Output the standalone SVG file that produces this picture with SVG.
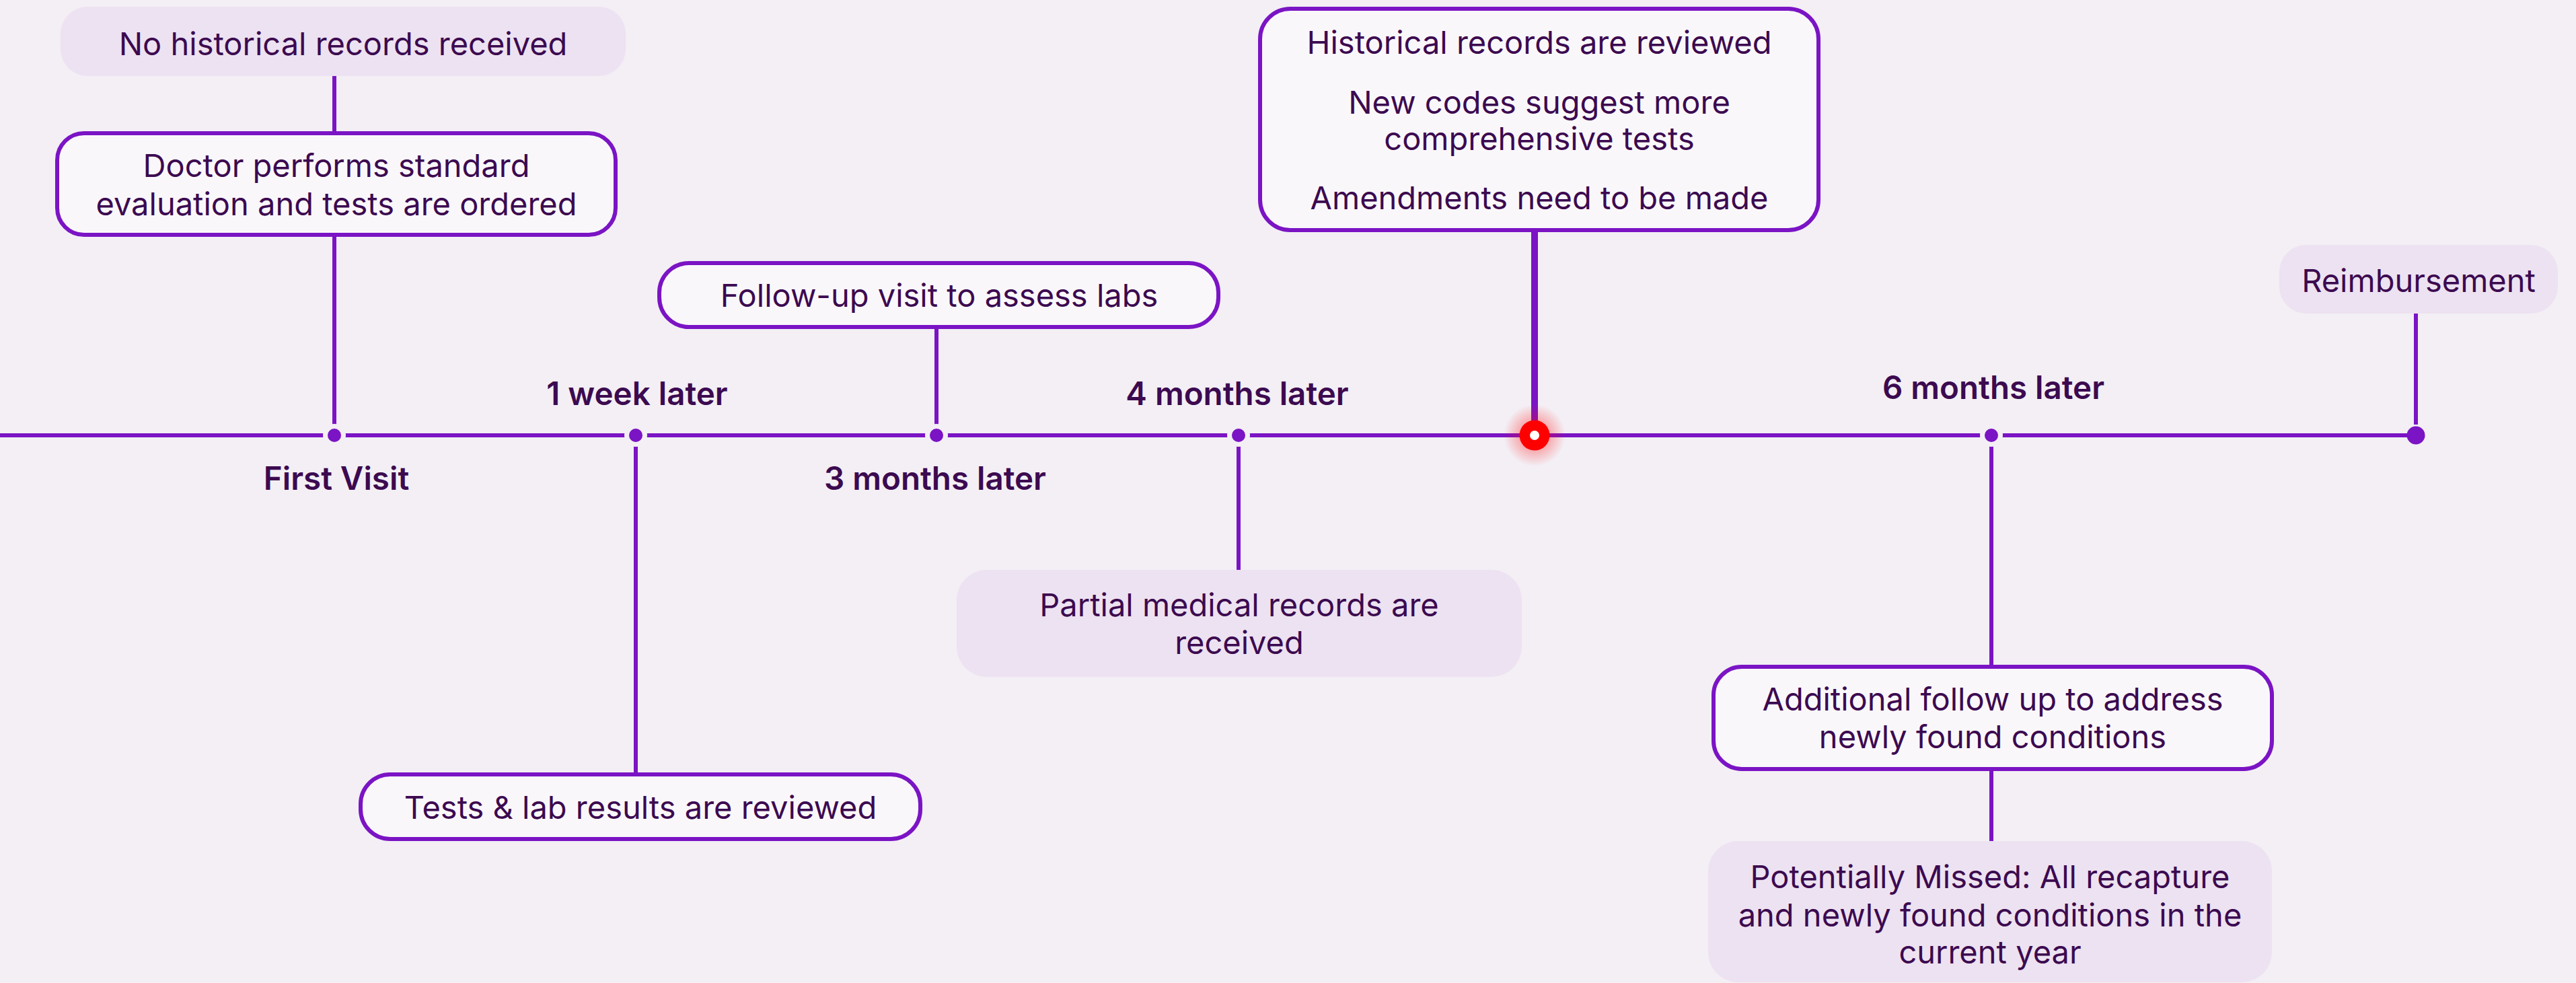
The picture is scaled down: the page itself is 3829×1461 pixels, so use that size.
<svg xmlns="http://www.w3.org/2000/svg" width="3829" height="1461" viewBox="0 0 3829 1461">
<defs>
<style>
.bg{fill:#F3EFF5}
.box{fill:#FAF7FB;stroke:#7B14C4;stroke-width:6}
.pill{fill:#EDE2F1}
.t{font-family:Inter,"Noto Sans","Liberation Sans",sans-serif;font-size:47px;fill:#3C0A50;text-anchor:middle}
.lbl{font-family:Inter,"Noto Sans","Liberation Sans",sans-serif;font-size:47.5px;font-weight:600;fill:#3C0A50;text-anchor:middle}
.ln{stroke:#7B14C4;stroke-width:6;fill:none}
.dot{fill:#7B14C4;stroke:#F3EFF5;stroke-width:7}
</style>
<radialGradient id="glow">
<stop offset="0.45" stop-color="#FF0000" stop-opacity="0.3"/>
<stop offset="1" stop-color="#FF0000" stop-opacity="0"/>
</radialGradient>
</defs>
<rect class="bg" x="0" y="0" width="3829" height="1461"/>

<g id="connectors">
<line class="ln" x1="0" y1="647" x2="3591" y2="647"/>
<line class="ln" x1="497" y1="113" x2="497" y2="196"/>
<line class="ln" x1="497" y1="352" x2="497" y2="631"/>
<line class="ln" x1="945" y1="663" x2="945" y2="1149"/>
<line class="ln" x1="1392" y1="488" x2="1392" y2="631"/>
<line class="ln" x1="1841" y1="663" x2="1841" y2="848"/>
<line class="ln" x1="2281" y1="343" x2="2281" y2="640" style="stroke-width:10"/>
<line class="ln" x1="2960" y1="663" x2="2960" y2="989"/>
<line class="ln" x1="2960" y1="1145" x2="2960" y2="1251"/>
<line class="ln" x1="3591" y1="466" x2="3591" y2="631"/>
</g>

<g id="markers">
<circle class="dot" cx="497" cy="647" r="13.5"/>
<circle class="dot" cx="945" cy="647" r="13.5"/>
<circle class="dot" cx="1392" cy="647" r="13.5"/>
<circle class="dot" cx="1841" cy="647" r="13.5"/>
<circle class="dot" cx="2960" cy="647" r="13.5"/>
<circle cx="3591" cy="647" r="13.5" fill="#7B14C4"/>
<g id="current">
<circle cx="2281" cy="647" r="46" fill="url(#glow)"/>
<circle cx="2281" cy="647" r="22.5" fill="#FF0000"/>
<circle cx="2281" cy="647" r="7" fill="#FFFFFF"/>
</g>
</g>

<g id="labels">
<text class="lbl" x="500" y="728">First Visit</text>
<text class="lbl" x="947" y="602">1 week later</text>
<text class="lbl" x="1390" y="728">3 months later</text>
<text class="lbl" x="1839" y="602">4 months later</text>
<text class="lbl" x="2963" y="593">6 months later</text>
</g>

<g id="n-no-records">
<rect class="pill" x="90" y="10" width="840" height="103" rx="40"/>
<text class="t" x="510" y="82">No historical records received</text>
</g>

<g id="n-doctor">
<rect class="box" x="85" y="198" width="830" height="151" rx="40"/>
<text class="t" x="500" y="263">Doctor performs standard</text>
<text class="t" x="500" y="320">evaluation and tests are ordered</text>
</g>

<g id="n-tests">
<rect class="box" x="536" y="1151" width="832" height="96" rx="44"/>
<text class="t" x="952" y="1217">Tests &amp; lab results are reviewed</text>
</g>

<g id="n-followup">
<rect class="box" x="980" y="391" width="831" height="95" rx="44"/>
<text class="t" x="1396" y="456">Follow-up visit to assess labs</text>
</g>

<g id="n-partial">
<rect class="pill" x="1422" y="847" width="840" height="159" rx="45"/>
<text class="t" x="1842" y="916">Partial medical records are</text>
<text class="t" x="1842" y="972">received</text>
</g>

<g id="n-historical">
<rect class="box" x="1873" y="13" width="830" height="329" rx="45"/>
<text class="t" x="2288" y="80">Historical records are reviewed</text>
<text class="t" x="2288" y="169">New codes suggest more</text>
<text class="t" x="2288" y="223">comprehensive tests</text>
<text class="t" x="2288" y="311">Amendments need to be made</text>
</g>

<g id="n-reimbursement">
<rect class="pill" x="3388" y="364" width="414" height="102" rx="40"/>
<text class="t" x="3595" y="434">Reimbursement</text>
</g>

<g id="n-additional">
<rect class="box" x="2547" y="991" width="830" height="152" rx="42"/>
<text class="t" x="2962" y="1056">Additional follow up to address</text>
<text class="t" x="2962" y="1112">newly found conditions</text>
</g>

<g id="n-missed">
<rect class="pill" x="2539" y="1250" width="838" height="210" rx="45"/>
<text class="t" x="2958" y="1320">Potentially Missed: All recapture</text>
<text class="t" x="2958" y="1377">and newly found conditions in the</text>
<text class="t" x="2958" y="1432">current year</text>
</g>
</svg>
